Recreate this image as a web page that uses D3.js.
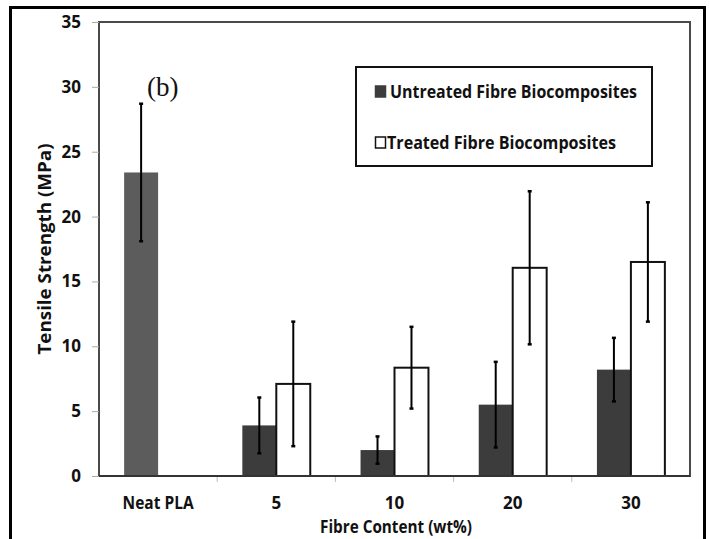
<!DOCTYPE html>
<html>
<head>
<meta charset="utf-8">
<script src="https://cdn.jsdelivr.net/npm/d3@7"></script>
<style>
  body { margin: 0; background: #fff; }
  svg text { font-family: "Open Sans", sans-serif; font-weight: bold; fill: #111; }
</style>
</head>
<body>
<svg width="710" height="539"></svg>
<script>
// values
var categories = ["Neat PLA", "5", "10", "20", "30"];
var series = ["Untreated Fibre Biocomposites", "Treated Fibre Biocomposites"];
var untreated = [23.4, 3.9, 2.0, 5.5, 8.2];
var untreatedErr = [5.3, 2.15, 1.05, 3.3, 2.45];
var treated = [null, 7.1, 8.35, 16.05, 16.5];
var treatedErr = [null, 4.8, 3.15, 5.9, 4.6];
var yTicks = [0, 5, 10, 15, 20, 25, 30, 35];

var svg = d3.select("svg");
var plotL = 99, plotR = 690, plotT = 22, plotB = 476;

// outer frame (cut at the bottom of the picture)
svg.append("rect")
  .attr("x", 10.5).attr("y", 7.5)
  .attr("width", 694).attr("height", 560)
  .attr("fill", "none").attr("stroke", "#000").attr("stroke-width", 3);

var y = d3.scaleLinear().domain([0, 35]).range([plotB, plotT]);
var x0 = d3.scaleBand().domain(categories).range([plotL, plotR]);
var x1 = d3.scaleBand().domain([0, 1]).range([0, x0.bandwidth()])
  .paddingInner(0).paddingOuter(0.74);

// plot border
svg.append("rect")
  .attr("x", plotL).attr("y", plotT)
  .attr("width", plotR - plotL).attr("height", plotB - plotT)
  .attr("fill", "none").attr("stroke", "#4a4a4a").attr("stroke-width", 2);

// y axis
var yAxis = svg.append("g")
  .attr("transform", "translate(" + plotL + ",0)")
  .call(d3.axisLeft(y).tickValues(yTicks).tickSize(7).tickPadding(11));
yAxis.select(".domain").remove();
yAxis.selectAll("line").attr("stroke", "#aaa");
yAxis.selectAll("text").style("font-size", "17px").style("font-family", "Open Sans").style("font-weight", "bold");

// x axis
var xAxis = svg.append("g")
  .attr("transform", "translate(0," + plotB + ")")
  .call(d3.axisBottom(x0).tickSize(0).tickPadding(21));
xAxis.select(".domain").remove();
xAxis.selectAll("text").style("font-size", "17px").style("font-family", "Open Sans").style("font-weight", "bold");
xAxis.selectAll("text").filter(function(d) { return d == "Neat PLA"; })
  .attr("textLength", 71).attr("lengthAdjust", "spacingAndGlyphs");
// tick marks between categories
svg.append("g").selectAll("line")
  .data(categories.slice(1))
  .enter().append("line")
  .attr("x1", function(d) { return x0(d); })
  .attr("x2", function(d) { return x0(d); })
  .attr("y1", plotB).attr("y2", plotB + 6)
  .attr("stroke", "#bbb").attr("stroke-width", 1);

// bars
var bars = [];
categories.forEach(function(c, i) {
  bars.push({cat: c, s: 0, v: untreated[i], e: untreatedErr[i]});
  if (treated[i] != null) bars.push({cat: c, s: 1, v: treated[i], e: treatedErr[i]});
});

svg.append("g").selectAll("rect")
  .data(bars)
  .enter().append("rect")
  .attr("x", function(d) { return x0(d.cat) + x1(d.s); })
  .attr("y", function(d) { return y(d.v); })
  .attr("width", x1.bandwidth())
  .attr("height", function(d) { return plotB - y(d.v); })
  .attr("fill", function(d) { return d.s == 1 ? "#fff" : (d.cat == "Neat PLA" ? "#5c5c5c" : "#3c3c3c"); })
  .attr("stroke", function(d) { return d.s == 1 ? "#111" : "none"; })
  .attr("stroke-width", 2);

// bottom axis line over bars
svg.append("line")
  .attr("x1", plotL).attr("x2", plotR)
  .attr("y1", plotB).attr("y2", plotB)
  .attr("stroke", "#333").attr("stroke-width", 2);

// error bars
var err = svg.append("g").selectAll("g")
  .data(bars)
  .enter().append("g")
  .attr("transform", function(d) { return "translate(" + (x0(d.cat) + x1(d.s) + x1.bandwidth() / 2) + ",0)"; });
err.append("line")
  .attr("y1", function(d) { return y(d.v + d.e); })
  .attr("y2", function(d) { return y(d.v - d.e); })
  .attr("stroke", "#000").attr("stroke-width", 2);
err.append("line")
  .attr("x1", -2).attr("x2", 2)
  .attr("y1", function(d) { return y(d.v + d.e); })
  .attr("y2", function(d) { return y(d.v + d.e); })
  .attr("stroke", "#000").attr("stroke-width", 2.5);
err.append("line")
  .attr("x1", -2).attr("x2", 2)
  .attr("y1", function(d) { return y(d.v - d.e); })
  .attr("y2", function(d) { return y(d.v - d.e); })
  .attr("stroke", "#000").attr("stroke-width", 2.5);

// axis titles
svg.append("text")
  .attr("transform", "translate(51," + y(17.5) + ") rotate(-90)")
  .attr("text-anchor", "middle")
  .attr("textLength", 211).attr("lengthAdjust", "spacingAndGlyphs")
  .style("font-size", "18px")
  .text("Tensile Strength (MPa)");
svg.append("text")
  .attr("x", 396).attr("y", 533)
  .attr("text-anchor", "middle")
  .attr("textLength", 152).attr("lengthAdjust", "spacingAndGlyphs")
  .style("font-size", "18px")
  .text("Fibre Content (wt%)");

// panel label
svg.append("text")
  .attr("x", 147).attr("y", 96)
  .style("font-family", "Liberation Serif, serif").style("font-weight", "normal")
  .style("font-size", "27px")
  .text("(b)");

// legend
var legend = svg.append("g");
legend.append("rect")
  .attr("x", 356).attr("y", 67)
  .attr("width", 296).attr("height", 99)
  .attr("fill", "#fff").attr("stroke", "#111").attr("stroke-width", 2);
var lw = [247, 229];
var item = legend.selectAll(".item")
  .data(series)
  .enter().append("g")
  .attr("transform", function(d, i) { return "translate(375," + (98 + i * 51) + ")"; });
item.append("rect")
  .attr("x", 0.5).attr("y", -12)
  .attr("width", 10).attr("height", 11)
  .attr("fill", function(d, i) { return i == 0 ? "#3c3c3c" : "#fff"; })
  .attr("stroke", function(d, i) { return i == 0 ? "#3c3c3c" : "#111"; })
  .attr("stroke-width", 1.5);
item.append("text")
  .attr("x", function(d, i) { return i == 0 ? 15 : 12; })
  .attr("y", 0)
  .attr("textLength", function(d, i) { return lw[i]; })
  .attr("lengthAdjust", "spacingAndGlyphs")
  .style("font-size", "18px")
  .text(function(d) { return d; });
</script>
</body>
</html>
